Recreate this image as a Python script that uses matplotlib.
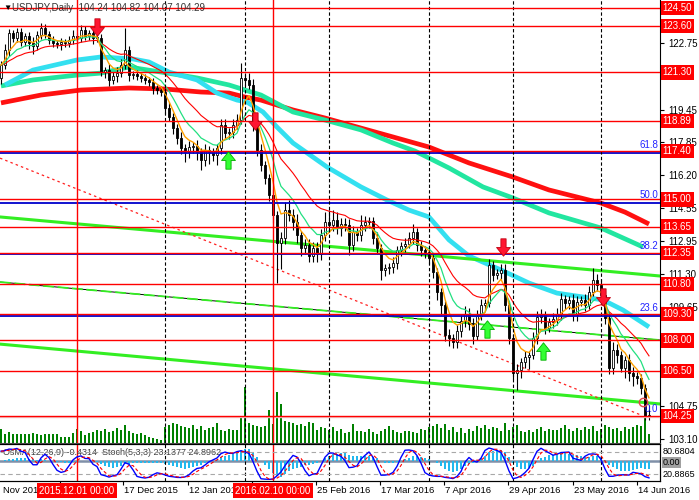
import numpy as np
import pandas as pd
import matplotlib
matplotlib.use("Agg")
import matplotlib.pyplot as plt
import matplotlib.transforms as mtrans
from matplotlib.path import Path

plt.rcParams['font.family'] = ['Liberation Sans', 'DejaVu Sans']

# ---- daily USDJPY bars, one bar per trading day ----
first_open = 121.05
close = [121.67, 122.42, 123.26, 123.01, 123.31, 122.81, 123.11, 122.76, 122.61, 123.16,
         123.51, 123.21, 122.91, 122.76, 122.71, 122.81, 122.76, 122.91, 123.11, 123.01,
         123.41, 123.11, 123.26, 123.01, 123.01, 121.32, 121.42, 120.93, 121.12, 121.27,
         121.67, 122.42, 121.17, 121.22, 121.12, 121.03, 120.93, 120.83, 120.53, 120.43,
         120.33, 119.54, 119.09, 118.54, 118.05, 117.55, 117.35, 117.60, 117.65, 117.35,
         116.96, 117.45, 117.35, 117.20, 117.55, 118.69, 118.30, 118.35, 118.69, 118.94,
         121.03, 120.93, 120.68, 118.69, 117.45, 116.71, 116.06, 115.22, 114.23, 112.84,
         113.08, 114.47, 114.23, 113.88, 113.23, 112.59, 112.74, 112.19, 112.59, 112.29,
         113.23, 113.88, 113.73, 113.98, 113.58, 113.78, 113.73, 112.74, 113.38, 113.23,
         113.73, 113.88, 113.93, 113.08, 112.59, 111.50, 111.60, 111.65, 111.85, 112.49,
         112.69, 112.79, 113.08, 113.38, 112.74, 112.49, 112.39, 112.09, 111.40, 110.41,
         109.76, 108.27, 108.12, 107.92, 108.47, 108.97, 109.31, 108.82, 108.22, 109.21,
         109.76, 109.86, 111.75, 111.25, 111.35, 111.50, 109.76, 108.12, 106.38, 106.53,
         106.93, 107.18, 107.28, 108.12, 109.16, 109.26, 108.62, 108.92, 109.07, 109.31,
         110.06, 109.86, 110.01, 109.26, 109.91, 110.01, 109.76, 110.41, 111.00, 110.75,
         110.26, 109.11, 106.63, 107.53, 107.28, 106.63, 107.03, 106.38, 106.24, 106.14,
         105.64, 104.24, 104.29]
upper_wick = [0.2, 0.3, 0.2, 0.15, 0.2, 0.2, 0.15, 0.2, 0.3, 0.2,
              0.25, 0.2, 0.15, 0.2, 0.15, 0.2, 0.15, 0.2, 0.3, 0.15,
              0.25, 0.2, 0.15, 0.2, 0.2, 0.2, 0.15, 0.3, 0.2, 0.3,
              0.3, 1.1, 0.2, 0.15, 0.2, 0.15, 0.2, 0.15, 0.2, 0.15,
              0.2, 0.2, 0.3, 0.2, 0.2, 0.3, 0.2, 0.3, 0.2, 0.3,
              0.2, 0.3, 0.2, 0.2, 0.2, 0.3, 0.3, 0.2, 0.3, 0.3,
              0.75, 0.2, 0.35, 0.3, 0.2, 0.3, 0.2, 0.2, 0.3, 0.2,
              0.3, 0.4, 0.5, 0.3, 0.4, 0.2, 0.3, 0.3, 0.3, 0.3,
              0.3, 0.5, 0.6, 0.5, 0.4, 0.3, 0.3, 0.3, 0.3, 0.2,
              0.5, 0.3, 0.2, 0.2, 0.3, 0.2, 0.2, 0.2, 0.3, 0.2,
              0.2, 0.3, 0.3, 0.4, 0.2, 0.2, 0.2, 0.3, 0.2, 0.2,
              0.2, 0.2, 0.3, 0.2, 0.3, 0.3, 0.4, 0.3, 0.3, 0.3,
              0.3, 0.2, 0.3, 0.2, 0.2, 0.3, 0.3, 0.2, 0.2, 0.3,
              0.2, 0.3, 0.2, 0.3, 0.3, 0.3, 0.2, 0.2, 0.3, 0.3,
              0.3, 0.2, 0.2, 0.3, 0.3, 0.2, 0.3, 0.3, 0.6, 0.3,
              0.3, 0.2, 0.3, 0.4, 0.3, 0.2, 0.2, 0.3, 0.3, 0.2,
              0.2, 0.2, 0.53]
lower_wick = [0.3, 0.2, 0.3, 0.2, 0.2, 0.2, 0.2, 0.3, 0.4, 0.2,
              0.2, 0.2, 0.2, 0.2, 0.2, 0.3, 0.2, 0.2, 0.2, 0.2,
              0.2, 0.2, 0.2, 0.3, 0.2, 0.2, 0.3, 0.3, 0.2, 0.3,
              0.2, 0.2, 0.3, 0.2, 0.2, 0.2, 0.2, 0.2, 0.3, 0.2,
              0.2, 0.3, 0.2, 0.3, 0.3, 0.3, 0.5, 0.3, 0.3, 0.4,
              0.5, 0.3, 0.6, 0.3, 0.5, 0.3, 0.3, 0.3, 0.3, 0.2,
              0.2, 0.3, 0.2, 0.3, 0.3, 0.3, 0.3, 0.3, 0.4, 2.0,
              1.3, 0.3, 0.3, 0.4, 0.4, 0.4, 0.3, 0.3, 0.3, 0.4,
              0.3, 0.3, 0.3, 0.3, 0.3, 0.4, 0.3, 0.5, 0.3, 0.3,
              0.3, 0.3, 0.3, 0.3, 0.3, 0.5, 0.3, 0.3, 0.3, 0.3,
              0.3, 0.3, 0.2, 0.3, 0.3, 0.3, 0.3, 0.3, 0.3, 0.4,
              0.5, 0.3, 0.4, 0.3, 0.3, 0.3, 0.3, 0.3, 0.4, 0.2,
              0.2, 0.3, 0.2, 0.3, 0.2, 0.3, 0.3, 0.3, 0.3, 0.85,
              0.4, 0.3, 0.6, 0.2, 0.3, 0.3, 0.3, 0.2, 0.3, 0.3,
              0.3, 0.3, 0.3, 0.3, 0.3, 0.2, 0.3, 0.2, 0.2, 0.3,
              0.3, 0.3, 0.3, 0.3, 0.4, 0.2, 0.5, 0.4, 0.5, 0.3,
              0.3, 0.2, 0.17]
volume = [14, 9, 11, 9, 9, 9, 9, 9, 10, 9, 8, 9, 9, 9, 9, 6, 6, 6, 10, 14, 12, 8, 10, 11, 13,
          12, 14, 11, 12, 15, 13, 18, 12, 10, 9, 10, 8, 6, 5, 4, 3,
          16, 18, 20, 19, 17, 16, 15, 18, 14, 17, 13, 15, 16, 20, 13, 12, 14, 13, 13, 26,
          56, 20, 18, 17, 16, 17, 33, 19, 51, 39, 22, 21, 20, 18, 19, 17, 21, 20, 13, 16,
          15, 13, 16, 12, 14, 10, 11, 19, 12, 12, 11, 14, 11, 9, 12, 14, 17, 13, 11, 10,
          12, 12, 11, 10, 14, 13, 16, 17, 19, 15, 19, 13, 16, 11, 15, 10, 14, 12, 17, 15,
          18, 14, 16, 15, 12, 20, 13, 16, 18, 12, 11, 13, 11, 14, 16, 12, 14, 13, 13, 15,
          18, 14, 12, 15, 13, 16, 14, 17, 12, 14, 18, 16, 14, 15, 12, 16, 14, 16, 18, 17, 27, 9]

# long moving averages (bar index, price)
ma_red_idx = [0, 10, 20, 32, 41, 50, 57, 61, 65, 73, 81, 90, 98, 107, 117, 128, 137, 150, 156, 162]
ma_red_val = [119.79, 120.18, 120.43, 120.53, 120.48, 120.33, 120.28, 120.08, 119.93, 119.44,
              119.04, 118.54, 118.10, 117.60, 116.81, 116.11, 115.47, 114.82, 114.37, 113.78]
ma_aqua_idx = [0, 8, 19, 25, 32, 40, 49, 57, 65, 73, 81, 90, 98, 103.5, 112, 120.5, 128, 137, 150, 160.5]
ma_aqua_val = [120.63, 120.93, 121.17, 121.27, 121.57, 121.32, 121.03, 120.68, 120.18, 119.34,
               118.94, 118.45, 117.80, 117.40, 116.56, 115.62, 115.07, 114.33, 113.58, 112.64]
ma_cyan_idx = [1, 8, 19, 25, 33, 37, 42, 49, 54, 59, 61.5, 65.5, 69, 73, 81.5, 90, 96.5, 102,
               107, 112, 117, 125, 132, 139, 145.5, 150.5, 155.5, 162]
ma_cyan_val = [120.68, 121.42, 121.92, 122.07, 121.97, 121.82, 121.32, 120.93, 120.28, 119.93,
               119.83, 119.34, 118.59, 117.80, 116.61, 115.62, 114.97, 114.47, 114.13, 112.99,
               112.19, 111.50, 110.85, 110.35, 110.16, 110.01, 109.51, 108.67]

# trend lines: (start idx, start price, end idx, end price)
green_upper = (-0.25, 114.13, 164.75, 111.20)
green_mid = (-0.25, 110.90, 164.75, 108.02)
green_lower = (-0.25, 107.82, 164.75, 104.85)
red_dotted = (-0.25, 117.05, 160.0, 104.30)

levels = [124.50, 123.60, 121.30, 118.89, 117.40, 115.00, 113.65, 112.35, 110.80, 109.30,
          108.00, 106.50, 104.25]
fib_low, fib_high = 104.25, 125.45
fib_pcts = [0.0, 23.6, 38.2, 50.0, 61.8]
price_ticks = [122.75, 119.45, 117.85, 116.20, 114.55, 112.95, 111.30, 109.65, 104.75, 103.10]

sell_idx = [24, 63.5, 125.5, 150.5]
sell_val = [123.56, 118.89, 112.64, 110.16]
buy_idx = [56.75, 121.5, 135.5]
buy_val = [116.96, 108.57, 107.48]

month_sep = [41, 61, 82, 107, 128, 150]
marked_days = [19, 68]
marked_labels = ['2015.12.01 00:00', '2016.02.10 00:00']
date_ticks = [14.75, 30.5, 46.75, 62.75, 78.75, 94.75, 110.75, 126.75, 143, 159]
date_label_idx = [0.3, 30.5, 46.75, 78.75, 94.75, 110.75, 126.75, 143, 159]
date_labels = ['Nov 2015', '17 Dec 2015', '12 Jan 2016', '25 Feb 2016', '17 Mar 2016',
               '7 Apr 2016', '29 Apr 2016', '23 May 2016', '14 Jun 2016']

# ---- derived series ----
c = pd.Series(close)
o = pd.Series([first_open] + close[:-1])
hi = np.maximum(o, c) + pd.Series(upper_wick)
lo = np.minimum(o, c) - pd.Series(lower_wick)
idx = np.arange(len(close))

ema5 = c.ewm(span=5, adjust=False).mean()
ema10 = c.ewm(span=10, adjust=False).mean()
ema21 = c.ewm(span=21, adjust=False).mean()

macd = c.ewm(span=12, adjust=False).mean() - c.ewm(span=26, adjust=False).mean()
osma = macd - macd.rolling(9, min_periods=1).mean()
ll = lo.rolling(5, min_periods=1).min()
hh = hi.rolling(5, min_periods=1).max()
stoch_k = (c - ll).rolling(3, min_periods=1).sum() / (hh - ll).rolling(3, min_periods=1).sum() * 100
stoch_d = stoch_k.rolling(3, min_periods=1).mean()

# ---- figure ----
fig = plt.figure(figsize=(6.99, 5.0), dpi=100)
W, H = 699.0, 500.0
ax = fig.add_axes([0, 57 / H, 660 / W, 443 / H])
osc = fig.add_axes([0, 19 / H, 660 / W, 37 / H])

xlim = (-0.25, 164.75)
ax.set_xlim(*xlim)
ax.set_ylim(102.912, 124.897)

vol_ax = ax.twinx()
vol_ax.set_ylim(0, 443)
vol_ax.bar(idx, volume, width=0.3, color='#008000')
vol_ax.set_yticks([])
vol_ax.set_zorder(ax.get_zorder() - 1)
ax.patch.set_visible(False)
for s in vol_ax.spines.values():
    s.set_visible(False)

# horizontal support / resistance and fibo lines
for f in fib_pcts:
    p = fib_low + (fib_high - fib_low) * f / 100
    ax.axhline(p - 0.05, color='#0000CC', lw=1.3, zorder=4)
    ax.text(658 / 660, p + 0.1, '%.1f' % f, transform=ax.get_yaxis_transform(),
            ha='right', va='bottom', color='#2222FF', fontsize=7, zorder=6)
for lv in levels:
    ax.axhline(lv, color='#FF0000', lw=1.0, zorder=4.5)
ax.axhline(104.20, color='#F0C8C8', lw=1.0, zorder=4.4)

# long MAs
ax.plot(ma_red_idx, ma_red_val, color='#FF1010', lw=3.4, zorder=2, solid_capstyle='butt')
ax.plot(ma_aqua_idx, ma_aqua_val, color='#22E6A0', lw=3.4, zorder=2, solid_capstyle='butt')
ax.plot(ma_cyan_idx, ma_cyan_val, color='#33E0F0', lw=3.4, zorder=2, solid_capstyle='butt')

# trend lines
for tl in (green_upper, green_lower):
    ax.plot([tl[0], tl[2]], [tl[1], tl[3]], color='#33EE22', lw=2.2, zorder=2.5)
ax.plot([green_mid[0], green_mid[2]], [green_mid[1], green_mid[3]], color='black', lw=0.7, zorder=2.5)
ax.plot([green_mid[0], green_mid[2]], [green_mid[1], green_mid[3]], color='#33EE22', lw=1.3,
        dashes=(6, 2), zorder=2.6)
ax.plot([red_dotted[0], red_dotted[2]], [red_dotted[1], red_dotted[3]], color='#FF2020', lw=0.9,
        dashes=(2, 2.5), zorder=2.5)

# candles
ax.vlines(idx, lo, hi, color='black', lw=0.8, zorder=3)
body_low = np.minimum(o, c)
body_h = np.maximum(np.abs(c - o), 0.03)
up = c >= o
ax.bar(idx[up], body_h[up], bottom=body_low[up], width=0.72, color='white', edgecolor='black',
       linewidth=0.6, zorder=3.1)
ax.bar(idx[~up], body_h[~up], bottom=body_low[~up], width=0.72, color='black', edgecolor='black',
       linewidth=0.6, zorder=3.1)

# short MAs
ax.plot(idx, ema21, color='#FF0000', lw=0.8, zorder=3.5)
ax.plot(idx, ema10, color='#22E080', lw=0.9, zorder=3.6)
ax.plot(idx, ema5, color='#FFA000', lw=1.0, zorder=3.7)

# signal arrows
down_arrow = Path([(-0.3, 1), (0.3, 1), (0.3, 0.0), (0.8, 0.0), (0, -1), (-0.8, 0.0), (-0.3, 0.0), (-0.3, 1)],
                  closed=True)
up_arrow = Path([(x, -y) for x, y in down_arrow.vertices], closed=True)
ax.plot(sell_idx, sell_val, ls='none', marker=down_arrow, ms=12.5, mfc='#FF1530', mec='#C00010',
        mew=0.6, zorder=6)
ax.plot(buy_idx, buy_val, ls='none', marker=up_arrow, ms=12.5, mfc='#33FF33', mec='#00B000',
        mew=0.6, zorder=6)
ax.plot([160.5], [104.95], ls='none', marker='o', ms=6, mfc='none', mec='#E04848', mew=1.0, zorder=6)

# vertical lines
for a in (ax, osc):
    for m in month_sep:
        a.axvline(m, color='black', lw=0.8, dashes=(3, 2), zorder=4)
    for m in marked_days:
        a.axvline(m, color='#FF0000', lw=1.0, zorder=4.6)

# price axis
ax.yaxis.tick_right()
ax.set_yticks(price_ticks)
ax.set_yticklabels(['%.2f' % t for t in price_ticks])
ax.tick_params(axis='y', length=3, width=0.8, labelsize=7, pad=3, colors='black')
ax.set_xticks([])
for lv in levels:
    ax.text(1.004, lv, '%.2f' % lv, transform=ax.get_yaxis_transform(), ha='left', va='center',
            color='white', fontsize=7, zorder=10, clip_on=False,
            bbox=dict(boxstyle='square,pad=0.22', fc='#FF0000', ec='none'))
for name in ('left', 'top'):
    ax.spines[name].set_visible(False)
ax.spines['right'].set_color('black')
ax.spines['bottom'].set_color('#555555')

ax.text(0.5, 124.50, '\u25bc', fontsize=6, color='black', va='center', ha='left', zorder=10)
ax.text(2.8, 124.50, 'USDJPY,Daily  104.24 104.82 104.07 104.29', fontsize=7, color='#333333',
        va='center', ha='left', zorder=10)

# oscillator window
osc.set_xlim(*xlim)
m = np.nanmax(np.abs(osma.values))
s = m / 16.0
osc.set_ylim(-20 * s, 17 * s)
osc.bar(idx, osma.fillna(0), width=0.62, color='#22B8EE', zorder=2)
osc.axhline(0, color='#8090A8', lw=1.8, zorder=1.5)
st = osc.twinx()
st.set_ylim(0.9, 101.8)
st.axhline(80, color='#A8A8A8', lw=0.8, dashes=(4, 3))
st.axhline(20, color='#A8A8A8', lw=0.8, dashes=(4, 3))
st.plot(idx, stoch_k, color='#0000FF', lw=1.0)
st.plot(idx, stoch_d, color='#FF0000', lw=0.8, dashes=(3, 2))
st.set_yticks([])
for a in (osc, st):
    a.spines['left'].set_visible(False)
    for name in ('top', 'bottom', 'right'):
        a.spines[name].set_color('black')
osc.set_yticks([])
osc.set_xticks(date_ticks)
osc.set_xticklabels([])
osc.tick_params(axis='x', direction='out', length=3, width=0.8)
osc.text(0.004, 0.76, 'OsMA(12,26,9) -0.4314  Stoch(5,3,3) 23.1377 24.8962', transform=osc.transAxes,
         fontsize=6.5, color='#404040', va='center', ha='left', zorder=10)

rx = 1.004
osc.text(rx, 0.80, '80.6804', transform=osc.transAxes, fontsize=6.5, va='center', ha='left',
         clip_on=False)
osc.text(rx, 0.50, '0.00', transform=osc.transAxes, fontsize=6.5, va='center', ha='left', clip_on=False,
         bbox=dict(boxstyle='square,pad=0.1', fc='#A0A0A0', ec='none'))
osc.text(rx, 0.17, '20.8865', transform=osc.transAxes, fontsize=6.5, va='center', ha='left',
         clip_on=False)

# time axis labels
tt = mtrans.blended_transform_factory(osc.transData, osc.transAxes)
for d, lab in zip(date_label_idx, date_labels):
    osc.text(d + 0.3, -0.26, lab, transform=tt, fontsize=6.8, va='center', ha='left', clip_on=False)
for d, lab in zip(marked_days, marked_labels):
    osc.text(d, -0.26, lab, transform=tt, fontsize=7, va='center', ha='center', color='white',
             clip_on=False, zorder=10,
             bbox=dict(boxstyle='square,pad=0.25', fc='#FF0000', ec='none'))

fig.savefig('out.png', dpi=100, facecolor='white')
